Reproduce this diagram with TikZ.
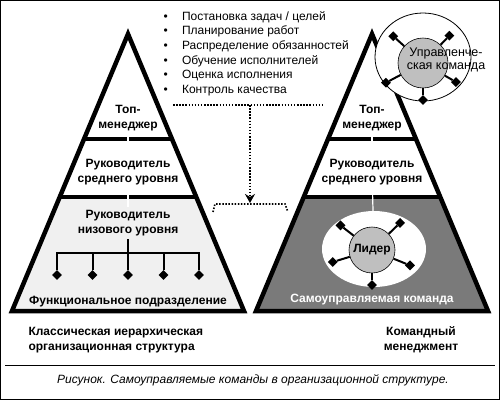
\documentclass[tikz,border=0pt]{standalone}
\usepackage{fontspec}
\setmainfont{Liberation Sans}
\usepackage{tikz}
\usetikzlibrary{arrows.meta,shapes.geometric}

\newcommand\bul{\makebox[18.5pt][l]{•}}

\begin{document}
\begin{tikzpicture}[
  x=1pt,y=1pt,>={Stealth[length=9pt,width=10pt]},
  frame/.style={line width=4.5pt,line join=miter},
  tier/.style={font=\fontsize{12}{15}\selectfont\bfseries,align=center},
  note/.style={font=\fontsize{12}{14.6}\selectfont,align=left},
  ring/.style={ellipse,fill=white,inner sep=0pt},
  hub/.style={circle,draw,line width=.6pt,fill=black!25,inner sep=0pt},
  knob/.style={diamond,fill=black,inner sep=0pt,minimum size=10pt},
  spoke/.style={line width=2pt},
  gap/.style={draw=white,line width=1.2pt},
  dots/.style={line width=1.6pt,dash pattern=on 1.5pt off 1.6pt}
]
\useasboundingbox (0,0) rectangle (500,-400);
\draw[line width=1pt] (.5,-.5) rectangle (499.5,-399.5);

% lower tiers
\fill[black!6] (59.7,-197) -- (196.3,-197) -- (244,-311) -- (12,-311) -- cycle;
\fill[black!52] (303.7,-197) -- (440.3,-197) -- (488,-311) -- (256,-311) -- cycle;
\foreach \c in {128,372} {
  \draw[frame] (\c,-34) -- (\c+116,-311) -- (\c-116,-311) -- cycle;
  \draw[frame] (\c-44,-139) -- (\c+44,-139);
  \draw[frame] (\c-68.3,-197) -- (\c+68.3,-197);
}

% classic hierarchy
\node[tier] (top1) at (128,-118) {Топ-\\менеджер};
\node[tier] (mid1) at (128,-172) {Руководитель\\среднего уровня};
\node[tier] (low1) at (128,-223) {Руководитель\\низового уровня};
\node[tier] (unit) at (128,-302) {Функциональное подразделение};
\draw[gap] (top1) -- (mid1);
\draw[gap] (mid1) -- (low1);
\coordinate (bar) at (128,-253);
\draw[spoke] (low1) -- (bar);
\foreach \x [count=\i] in {57,92.5,128,163.5,199} {
  \node[knob] (u\i) at (\x,-275) {};
  \draw[spoke] (u\i.north) |- (bar);
}

% team management
\node[tier] (top2) at (372,-118) {Топ-\\менеджер};
\node[tier] (mid2) at (372,-172) {Руководитель\\среднего уровня};
\draw[gap] (top2) -- (mid2);

\node[ring,draw,line width=.8pt,minimum width=96pt,minimum height=88pt] (ring1) at (423,-57) {};
\node[hub,minimum size=50pt] (hub1) at (423,-63) {};
\foreach \a/\r [count=\i] in {138/40,46/38,208/42,330/38,270/37} {
  \path (hub1.center) ++(\a:\r) node[knob] (m\i) {};
  \draw[spoke] (hub1) -- (m\i);
}
\node[font=\fontsize{12.5}{13.5}\selectfont,align=center] (mteam) at (446,-60)
  {Управленче-\\ская команда};

\node[ring,minimum width=104pt,minimum height=76pt] (ring2) at (374,-249) {};
\draw[gap] (mid2) -- (ring2);
\node[hub,minimum size=46pt,font=\fontsize{12}{15}\selectfont\bfseries] (lead) at (372,-250) {Лидер};
\foreach \a/\r [count=\i] in {142/40,44/39,197/41,338/41,270/35} {
  \path (lead.center) ++(\a:\r) node[knob] (t\i) {};
  \draw[spoke] (lead) -- (t\i);
}
\node[tier,text=white] (self) at (372,-300) {Самоуправляемая команда};

% manager functions
\node[note,anchor=west] (tasks) at (160,-53.5) {\bul Постановка задач / целей\\
  \bul Планирование работ\\ \bul Распределение обязанностей\\
  \bul Обучение исполнителей\\ \bul Оценка исполнения\\ \bul Контроль качества};
\coordinate (dl) at (173,-105);
\coordinate (dr) at (322,-105);
\coordinate (fork) at (250,-105);
\coordinate (aim) at (250,-203);
\draw[dots] (dl) -- (dr);
\draw[dots,->] (fork) -- (aim);
\draw[dots] (213,-212) -- (215,-204) -- (285,-204) -- (288,-212);

% labels
\node[tier,align=left,anchor=west] (cap1) at (25,-340)
  {Классическая иерархическая\\организационная структура};
\node[tier] (cap2) at (421,-340) {Командный\\менеджмент};
\draw (5,-365) -- (495,-365);
\node[font=\fontsize{12}{14}\selectfont\itshape] (fig) at (253,-380)
  {Рисунок. Самоуправляемые команды в организационной структуре.};
\end{tikzpicture}
\end{document}
